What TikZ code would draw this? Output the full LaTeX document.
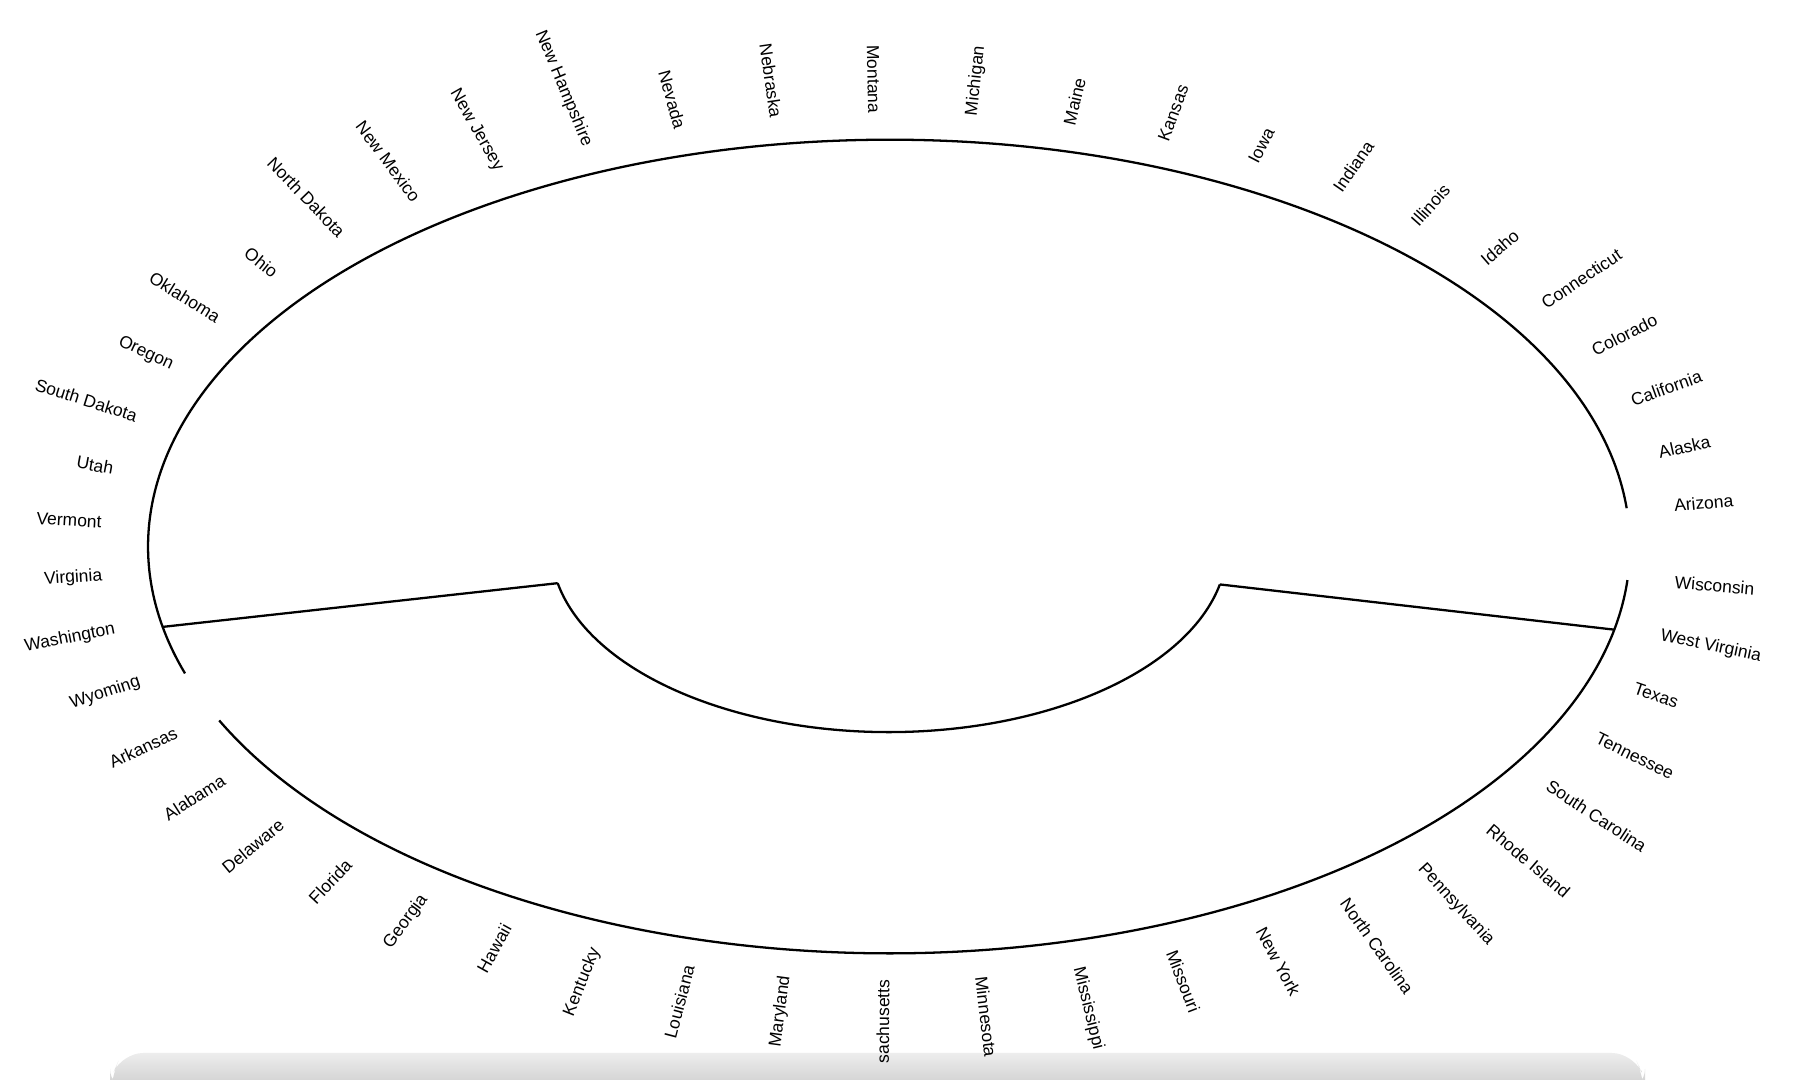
\documentclass[tikz,border=0pt]{standalone}
\usepackage{fontspec}
\setmainfont{Liberation Sans}
\begin{document}
\begin{tikzpicture}[
  x=1cm,y=1cm,
  branch/.style={line width=0.65pt, black},
  leaf/.style={font=\fontsize{4.97pt}{6pt}\selectfont, inner sep=0pt, text=black},
  band/.style={top color=gray!14, bottom color=gray!40, rounded corners=6pt}
]
\useasboundingbox (0,0) rectangle (18.10,10.80);
\fill[white] (0,0) rectangle (18.10,10.80);
\def\cx{8.89}\def\cy{5.335}
\def\astart{5.4}\def\astep{7.14}
% bottom band
\shade[band] (1.10,-0.1) -- (1.10,0) -- (1.22,0.27) -- (16.33,0.27) -- (16.45,0) -- (16.45,-0.1) -- cycle;
% tree coordinates
\coordinate (C) at (\cx,\cy);
\coordinate (J1) at ([shift={(\cx,\cy)}]191.4:3.38 and 1.856);
\coordinate (J2) at ([shift={(\cx,\cy)}]348.2:3.38 and 1.856);
\coordinate (O1) at ([shift={(\cx,\cy)}]191.4:7.41 and 4.068);
\coordinate (O2) at ([shift={(\cx,\cy)}]348.2:7.41 and 4.068);
\coordinate (A1) at ([shift={(\cx,\cy)}]5.4:7.41 and 4.068);
\coordinate (A29) at ([shift={(\cx,\cy)}]205.32:7.41 and 4.068);
% branches
\draw[branch] (J1) arc[start angle=191.4, end angle=348.2, x radius=3.38, y radius=1.856];
\draw[branch] (J1) -- (O1);
\draw[branch] (J2) -- (O2);
\draw[branch] (A1) arc[start angle=5.4, end angle=198.18, x radius=7.41, y radius=4.068];
\draw[branch] (A29) arc[start angle=205.32, end angle=355.26, x radius=7.41, y radius=4.068];
% leaf labels
\foreach \name [count=\i] in {Arizona, Alaska, California, Colorado, Connecticut, Idaho, Illinois, Indiana, Iowa, Kansas, Maine, Michigan, Montana, Nebraska, Nevada, New Hampshire, New Jersey, New Mexico, North Dakota, Ohio, Oklahoma, Oregon, South Dakota, Utah, Vermont, Virginia, Washington, Wyoming, Arkansas, Alabama, Delaware, Florida, Georgia, Hawaii, Kentucky, Louisiana, Maryland, sachusetts, Minnesota, Mississippi, Missouri, New York, North Carolina, Pennsylvania, Rhode Island, South Carolina, Tennessee, Texas, West Virginia, Wisconsin} {
  \pgfmathsetmacro\a{\astart+(\i-1)*\astep}
  \pgfmathtruncatemacro\flip{(\a>90 && \a<270) ? 1 : 0}
  \ifnum\flip=1
    \pgfmathsetmacro\rot{\a-180}
    \node[leaf, anchor=east, rotate=\rot] (L\i) at ([shift={(\cx,\cy)}]\a:7.88 and 4.326) {\name};
  \else
    \pgfmathsetmacro\rot{\a}
    \node[leaf, anchor=west, rotate=\rot] (L\i) at ([shift={(\cx,\cy)}]\a:7.88 and 4.326) {\name};
  \fi
}
\end{tikzpicture}
\end{document}
